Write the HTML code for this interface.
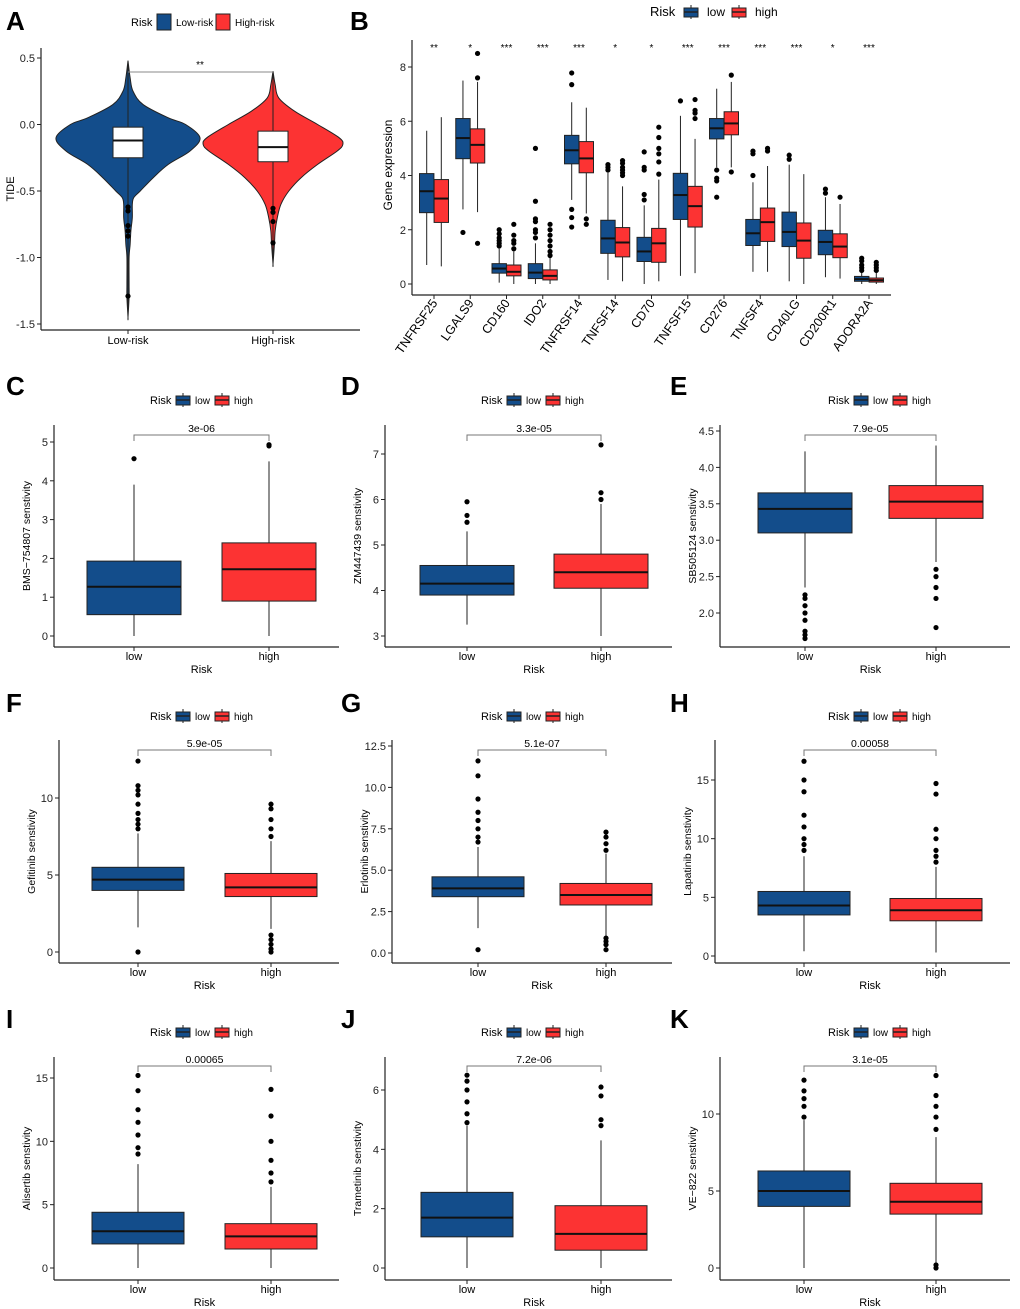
<!DOCTYPE html>
<html><head><meta charset="utf-8"><style>
body{margin:0;background:#fff}
svg{display:block;font-family:"Liberation Sans",Arial,sans-serif}
</style></head><body>
<svg id="fig" width="1020" height="1309" viewBox="0 0 1020 1309" xmlns="http://www.w3.org/2000/svg"></svg>
<script>
// ===== DATA =====
// Panel A violin (TIDE)
const violinGroups = ["Low-risk","High-risk"];
const violinY = [0.48,0.35,0.25,0.15,0.05,0.0,-0.1,-0.2,-0.3,-0.4,-0.5,-0.55,-0.6,-0.7,-0.8,-0.9,-1.0,-1.2,-1.3,-1.45];
const lowDensity = [0,0.03,0.07,0.21,0.56,0.8,1.0,0.86,0.56,0.35,0.17,0.08,0.06,0.06,0.04,0.03,0.015,0.015,0.015,0];
const highY = [0.4,0.3,0.2,0.1,0.0,-0.1,-0.15,-0.2,-0.3,-0.4,-0.5,-0.6,-0.7,-0.8,-0.9,-1.05];
const highDensity = [0,0.03,0.08,0.3,0.62,0.92,0.97,0.89,0.62,0.39,0.22,0.11,0.06,0.03,0.02,0];
const violinStats = [[-0.25,-0.12,-0.02,-1.45,0.48],[-0.28,-0.17,-0.05,-1.05,0.4]];
const violinOutliers = [[-0.62,-0.65,-0.76,-0.8,-0.84,-1.29],[-0.63,-0.66,-0.73,-0.89]];
const violinYTicks = [0.5,0.0,-0.5,-1.0,-1.5];
const violinYTickLabels = ["0.5","0.0","-0.5","-1.0","-1.5"];

// Panel B gene boxplots: [q1, median, q3, whiskerLow, whiskerHigh]
const genes = ["TNFRSF25","LGALS9","CD160","IDO2","TNFRSF14","TNFSF14","CD70","TNFSF15","CD276","TNFSF4","CD40LG","CD200R1","ADORA2A"];
const geneSig = ["**","*","***","***","***","*","*","***","***","***","***","*","***"];
const geneLow = [[2.63,3.42,4.07,0.7,5.65],[4.62,5.38,6.1,2.75,7.5],[0.4,0.57,0.75,0.05,1.3],[0.2,0.42,0.75,0,1.5],[4.43,4.93,5.48,3.1,6.7],[1.13,1.68,2.35,0.15,4.1],[0.83,1.2,1.72,0,2.9],[2.38,3.28,4.08,0.3,6.2],[5.35,5.74,6.1,4.3,7.2],[1.42,1.87,2.38,0.45,3.75],[1.38,1.92,2.65,0.1,4.4],[1.08,1.55,1.98,0.25,3.2],[0.1,0.18,0.28,0,0.45]];
const geneHigh = [[2.27,3.15,3.85,0.65,6.15],[4.46,5.13,5.72,2.65,7.45],[0.3,0.45,0.7,0,1.2],[0.15,0.3,0.52,0,1.0],[4.1,4.63,5.25,2.6,6.5],[1.0,1.53,2.08,0.1,3.6],[0.8,1.5,2.05,0.1,3.85],[2.1,2.87,3.6,0.4,5.35],[5.5,5.92,6.35,4.3,7.45],[1.57,2.28,2.8,0.45,4.35],[0.95,1.6,2.25,0,4.05],[0.97,1.38,1.85,0.2,2.95],[0.07,0.14,0.22,0,0.45]];
const geneLowOut = [[],[1.9],[1.4,1.5,1.6,1.7,1.85,2.0],[1.7,1.9,2.0,2.3,2.4,3.05,5.0],[2.1,2.45,2.75,7.35,7.78],[4.2,4.3,4.4],[3.1,3.3,4.2,4.3,4.87],[6.75],[4.2,3.9,3.8,3.2],[4.0,4.8,4.9],[4.6,4.75],[3.35,3.5],[0.5,0.6,0.7,0.85,0.95]];
const geneHighOut = [[],[1.5,7.6,8.5],[1.3,1.5,1.6,1.8,2.2],[1.05,1.2,1.4,1.6,1.8,2.0,2.2],[2.2,2.4],[4.0,4.1,4.2,4.3,4.45,4.55],[4.05,4.5,4.8,5.0,5.4,5.78],[6.1,6.3,6.4,6.8],[4.13,7.7],[4.9,5.0],[],[3.2],[0.5,0.6,0.7,0.8]];
const geneYTicks = [0,2,4,6,8];

// Drug panels C-K: [q1, median, q3, whiskerLow, whiskerHigh]
const drugNames = ["BMS-754807","ZM447439","SB505124","Gefitinib","Erlotinib","Lapatinib","Alisertib","Trametinib","VE-822"];
const drugP = ["3e-06","3.3e-05","7.9e-05","5.9e-05","5.1e-07","0.00058","0.00065","7.2e-06","3.1e-05"];
const drugLow = [[0.55,1.27,1.93,0,3.9],[3.9,4.15,4.55,3.25,5.3],[3.1,3.43,3.65,2.35,4.22],[4.0,4.7,5.5,1.6,7.7],[3.4,3.9,4.6,1.5,6.4],[3.5,4.3,5.5,0.4,8.5],[1.9,2.9,4.4,0,8.2],[1.05,1.7,2.55,0,4.8],[4.0,5.0,6.3,0,9.6]];
const drugHigh = [[0.9,1.72,2.4,0,4.5],[4.05,4.4,4.8,3.0,5.9],[3.3,3.53,3.75,2.7,4.3],[3.6,4.2,5.1,1.5,7.2],[2.9,3.5,4.2,1.0,6.0],[3.0,3.9,4.9,0.3,7.6],[1.5,2.5,3.5,0,6.4],[0.6,1.15,2.1,0,4.3],[3.5,4.3,5.5,0.1,8.5]];
const drugLowOut = [[4.57],[5.5,5.65,5.95],[2.25,2.2,2.1,2.0,1.9,1.75,1.7,1.65],[0,8.0,8.3,8.6,9.0,9.6,10.2,10.5,10.8,12.4],[0.2,6.7,7.0,7.5,8.0,8.5,9.3,10.7,11.6],[9.0,9.5,10.0,11.0,12.0,14.0,15.0,16.6],[9.0,9.5,10.5,11.5,12.5,14.0,15.2],[4.9,5.2,5.6,6.0,6.3,6.5],[9.8,10.5,11.0,11.5,12.2]];
const drugHighOut = [[4.9,4.93],[6.0,6.15,7.2],[2.6,2.5,2.35,2.2,1.8],[0,0.2,0.5,0.8,1.1,7.5,8.0,8.6,9.3,9.6],[0.2,0.5,0.7,0.9,6.2,6.6,7.0,7.3],[8.0,8.5,9.0,10.0,10.8,13.8,14.7],[6.8,7.5,8.5,10.0,12.0,14.1],[4.8,5.0,5.8,6.1],[0,0.2,9.0,9.8,10.5,11.2,12.5]];
const drugYTicks = [[0,1,2,3,4,5],[3,4,5,6,7],[2.0,2.5,3.0,3.5,4.0,4.5],[0,5,10],[0,2.5,5,7.5,10,12.5],[0,5,10,15],[0,5,10,15],[0,2,4,6],[0,5,10]];
const drugYTickLabels = [["0","1","2","3","4","5"],["3","4","5","6","7"],["2.0","2.5","3.0","3.5","4.0","4.5"],["0","5","10"],["0.0","2.5","5.0","7.5","10.0","12.5"],["0","5","10","15"],["0","5","10","15"],["0","2","4","6"],["0","5","10"]];

// ===== LAYOUT (pixels) =====
const BLUE="#134d8b", RED="#fc3333";
const NS="http://www.w3.org/2000/svg";
const svg=document.getElementById('fig');
function el(tag,attrs,parent,text){const e=document.createElementNS(NS,tag);for(const k in attrs)e.setAttribute(k,attrs[k]);if(text!==undefined)e.textContent=text;(parent||svg).appendChild(e);return e;}
function lin(v0,p0,v1,p1){return v=>p0+(v-v0)*(p1-p0)/(v1-v0);}

const letters=[["A",6,30],["B",350,30],["C",6,395],["D",341,395],["E",670,395],["F",6,712],["G",341,712],["H",670,712],["I",6,1028],["J",341,1028],["K",670,1028]];
letters.forEach(l=>{const t=el('text',{x:l[1],y:l[2],'font-size':26,'font-weight':'bold'},svg,l[0]);

});

function legend(g,x,y,labels,wide,opt){
  opt=opt||{};
  const fs=opt.fs||11, off=opt.off||26, gap=opt.gap||19, ws=opt.ws||(wide?[40,45]:[20,24]);
  const t=el('text',{x:x,y:y+4,'font-size':fs},g,'Risk');
  
  let cx=x+off;
  [[BLUE,labels[0]],[RED,labels[1]]].forEach((c,i)=>{
    const k=el('g',{},g);
    
    
    if(wide){el('rect',{x:cx,y:y-8,width:14,height:16,fill:c[0],stroke:'#222','stroke-width':1},k);}
    else{el('line',{x1:cx+7,x2:cx+7,y1:y-7,y2:y+7,stroke:'#222'},k);
      el('rect',{x:cx,y:y-4,width:14,height:9,fill:c[0],stroke:'#222'},k);
      el('line',{x1:cx,x2:cx+14,y1:y,y2:y,stroke:'#222','stroke-width':1.5},k);}
    el('text',{x:cx+gap,y:y+4,'font-size':fs-1},k,c[1]);
    cx+=gap+ws[i];
  });
}

function box(g,cx,hw,st,ys,fill,outs,name){
  const bg=el('g',{},g);
  
  
  el('line',{x1:cx,x2:cx,y1:ys(st[3]),y2:ys(st[0]),stroke:'#222','stroke-width':1},bg);
  el('line',{x1:cx,x2:cx,y1:ys(st[2]),y2:ys(st[4]),stroke:'#222','stroke-width':1},bg);
  el('rect',{x:cx-hw,y:ys(st[2]),width:2*hw,height:ys(st[0])-ys(st[2]),fill:fill,stroke:'#222','stroke-width':1},bg);
  el('line',{x1:cx-hw,x2:cx+hw,y1:ys(st[1]),y2:ys(st[1]),stroke:'#111','stroke-width':2},bg);
  outs.forEach(v=>el('circle',{cx:cx,cy:ys(v),r:2.6,fill:'#000'},bg));
}

function axes(g,left,top,bottom,right,ticks,labels,ys){
  el('line',{x1:left,x2:left,y1:top,y2:bottom,stroke:'#222','stroke-width':1.2},g);
  el('line',{x1:left,x2:right,y1:bottom,y2:bottom,stroke:'#222','stroke-width':1.2},g);
  ticks.forEach((v,i)=>{const y=ys(v);
    el('line',{x1:left-4,x2:left,y1:y,y2:y,stroke:'#222'},g);
    const t=el('text',{x:left-6,y:y+4,'font-size':11,'text-anchor':'end',fill:'#222'},g,labels[i]);
    });
}

// ---- Panel A ----
(function(){
  const g=el('g',{});
  const ys=lin(0.5,58,-1.5,324);
  const centers=[128,273], maxW=72;
  legend(g,131,22,["Low-risk","High-risk"],true);
  const ys2=[violinY,highY],ds=[lowDensity,highDensity],cols=[BLUE,RED];
  for(let k=0;k<2;k++){
    const Y=ys2[k],D=ds[k],cx=centers[k];
    let pts=Y.map((v,i)=>[cx+D[i]*maxW,ys(v)]);
    let back=Y.map((v,i)=>[cx-D[i]*maxW,ys(v)]).reverse();
    const all=pts.concat(back);
    let d='M'+all[0][0]+','+all[0][1];
    for(let i=0;i<all.length-1;i++){const p0=all[Math.max(i-1,0)],p1=all[i],p2=all[i+1],p3=all[Math.min(i+2,all.length-1)];
      d+=' C'+(p1[0]+(p2[0]-p0[0])/6)+','+(p1[1]+(p2[1]-p0[1])/6)+' '+(p2[0]-(p3[0]-p1[0])/6)+','+(p2[1]-(p3[1]-p1[1])/6)+' '+p2[0]+','+p2[1];}
    const vp=el('path',{d:d+'Z',fill:cols[k],stroke:'#222','stroke-width':1},g);
    
    
    box(g,cx,15,violinStats[k],ys,'#fff',violinOutliers[k],'box-'+violinGroups[k].toLowerCase());
    const t=el('text',{x:cx,y:344,'font-size':11,'text-anchor':'middle'},g,violinGroups[k]);
    
  }
  axes(g,41,48,330,360,violinYTicks,violinYTickLabels,ys);
  centers.forEach(c=>el('line',{x1:c,x2:c,y1:330,y2:334,stroke:'#222'},g));
  el('path',{d:'M128,72 H273',stroke:'#888',fill:'none'},g);
  el('text',{x:200,y:68,'font-size':10,'text-anchor':'middle'},g,'**');
  const yt=el('text',{x:14,y:189,'font-size':11,'text-anchor':'middle',transform:'rotate(-90 14 189)'},g,'TIDE');
  
})();

// ---- Panel B ----
(function(){
  const g=el('g',{});
  const ys=lin(0,284,8,67);
  const xs=i=>434+i*36.25;
  legend(g,650,12,["low","high"],false,{fs:13,off:34,gap:23,ws:[25,25]});
  genes.forEach((gn,i)=>{
    box(g,xs(i)-7.3,7.2,geneLow[i],ys,BLUE,geneLowOut[i],'box-'+gn.toLowerCase()+'-low');
    box(g,xs(i)+7.3,7.2,geneHigh[i],ys,RED,geneHighOut[i],'box-'+gn.toLowerCase()+'-high');
    el('line',{x1:xs(i),x2:xs(i),y1:295,y2:299,stroke:'#222'},g);
    const t=el('text',{x:xs(i)+4,y:303,'font-size':12.5,'text-anchor':'end',transform:'rotate(-55 '+(xs(i)+4)+' 303)'},g,gn);
    
    const s=el('text',{x:xs(i),y:51,'font-size':10,'text-anchor':'middle'},g,geneSig[i]);
    
  });
  axes(g,412,40,295,891,geneYTicks,geneYTicks.map(String),ys);
  const yt=el('text',{x:392,y:165,'font-size':12,'text-anchor':'middle',transform:'rotate(-90 392 165)'},g,'Gene expression');
  
})();

// ---- Panels C-K ----
const panelGeom=[
 {L:54,low:134,high:269,R:339,row:0,ref:[0,636,5,442],hw:47},
 {L:385,low:467,high:601,R:672,row:0,ref:[3,636,7,454],hw:47},
 {L:720,low:805,high:936,R:1010,row:0,ref:[2,613,4.5,431],hw:47},
 {L:59,low:138,high:271,R:339,row:1,ref:[0,952,10,798],hw:46},
 {L:392,low:478,high:606,R:672,row:1,ref:[0,953,12.5,746],hw:46},
 {L:715,low:804,high:936,R:1010,row:1,ref:[0,956,15,780],hw:46},
 {L:54,low:138,high:271,R:339,row:2,ref:[0,1268,15,1078],hw:46},
 {L:385,low:467,high:601,R:672,row:2,ref:[0,1268,6,1090],hw:46},
 {L:720,low:804,high:936,R:1010,row:2,ref:[0,1268,10,1114],hw:46}];
const rowY=[{top:425,bottom:647,leg:400,br:435},{top:740,bottom:963,leg:716,br:750},{top:1057,bottom:1280,leg:1032,br:1066}];
const legX=[150,481,828];
drugNames.forEach((dn,i)=>{
  const G=panelGeom[i],R=rowY[G.row];
  const g=el('g',{});
  
  
  const ys=lin(G.ref[0],G.ref[1],G.ref[2],G.ref[3]);
  legend(g,legX[i%3],R.leg,["low","high"],false);
  box(g,G.low,G.hw,drugLow[i],ys,BLUE,drugLowOut[i],'box-low');
  box(g,G.high,G.hw,drugHigh[i],ys,RED,drugHighOut[i],'box-high');
  axes(g,G.L,R.top,R.bottom,G.R,drugYTicks[i],drugYTickLabels[i],ys);
  [[G.low,'low'],[G.high,'high']].forEach(c=>{
    el('line',{x1:c[0],x2:c[0],y1:R.bottom,y2:R.bottom+4,stroke:'#222'},g);
    const t=el('text',{x:c[0],y:R.bottom+13,'font-size':11,'text-anchor':'middle'},g,c[1]);
    });
  const xt=el('text',{x:(G.low+G.high)/2,y:R.bottom+26,'font-size':11,'text-anchor':'middle'},g,'Risk');
  
  el('path',{d:'M'+G.low+','+(R.br+6)+' V'+R.br+' H'+G.high+' V'+(R.br+6),stroke:'#777',fill:'none'},g);
  const pt=el('text',{x:(G.low+G.high)/2,y:R.br-3,'font-size':10.5,'text-anchor':'middle'},g,drugP[i]);
  
  const ty=G.L-24, tyc=(R.top+R.bottom)/2;
  const yt=el('text',{x:ty,y:tyc,'font-size':10.5,'text-anchor':'middle',transform:'rotate(-90 '+ty+' '+tyc+')'},g,dn.replace('-','\u2212')+' senstivity');
  
});
</script>
</body></html>
